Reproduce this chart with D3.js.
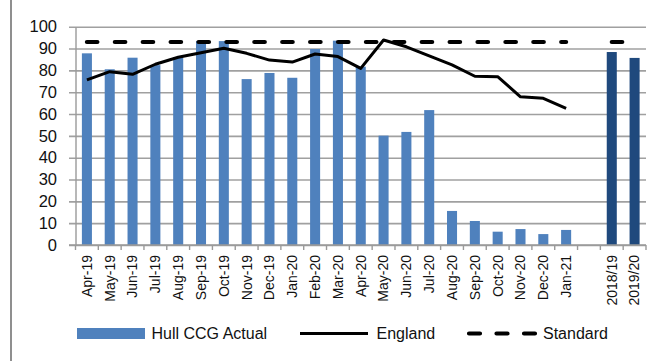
<!DOCTYPE html>
<html>
<head>
<meta charset="utf-8">
<script src="https://cdn.jsdelivr.net/npm/d3@7"></script>
<style>
  html, body { margin: 0; padding: 0; background: #fff; }
  svg { display: block; font-family: "Liberation Sans", Arial, sans-serif; }
</style>
</head>
<body>
<svg id="chart" width="657" height="361"></svg>
<script>
// Monthly figures, Apr-19 to Jan-21
const months = ["Apr-19","May-19","Jun-19","Jul-19","Aug-19","Sep-19","Oct-19","Nov-19","Dec-19","Jan-20",
  "Feb-20","Mar-20","Apr-20","May-20","Jun-20","Jul-20","Aug-20","Sep-20","Oct-20","Nov-20","Dec-20","Jan-21"];
const hullActual = [87.8, 80.5, 85.8, 82.4, 86.0, 93.4, 93.4, 76.0, 78.8, 76.6,
  89.8, 93.6, 81.7, 50.1, 51.8, 61.8, 15.6, 11.0, 6.1, 7.3, 5.0, 6.9];
const england = [75.6, 79.4, 78.2, 82.8, 86.0, 88.1, 90.1, 87.8, 84.7, 83.8,
  87.5, 86.3, 80.9, 93.9, 90.8, 86.6, 82.5, 77.3, 77.1, 67.9, 67.2, 62.6];
// Full-year figures
const years = ["2018/19", "2019/20"];
const hullYearly = [88.4, 85.7];
const standard = 93;
const yTicks = [0, 10, 20, 30, 40, 50, 60, 70, 80, 90, 100];

const gap = " "; // empty slot between months and years
const categories = [...months, gap, ...years];

const svg = d3.select("#chart");
const plotLeft = 75.5, plotRight = 646, plotTop = 26.7, plotBottom = 245;

const x = d3.scaleBand().domain(categories).range([plotLeft, plotRight]).paddingInner(0.56).paddingOuter(0.28);
const y = d3.scaleLinear().domain([0, 100]).range([plotBottom, plotTop]);
const cx = c => x(c) + x.bandwidth() / 2;

// outer frame edge
svg.append("line").attr("x1", 11).attr("x2", 11).attr("y1", 0).attr("y2", 361)
  .attr("stroke", "#8f8f8f").attr("stroke-width", 2);

// gridlines
svg.append("g").attr("transform", `translate(${plotRight},0)`)
  .call(d3.axisLeft(y).tickValues(yTicks).tickSize(plotRight - 69).tickFormat(""))
  .call(g => g.select(".domain").remove())
  .call(g => g.selectAll("line").attr("stroke", "#a0a0a0").attr("stroke-width", 1.6));

// y axis
svg.append("g").attr("transform", `translate(${plotLeft},0)`)
  .call(d3.axisLeft(y).tickValues(yTicks).tickSize(0).tickPadding(18.5))
  .call(g => g.select(".domain").attr("stroke", "#9a9a9a").attr("stroke-width", 1.4))
  .call(g => g.selectAll("text").attr("font-size", "16.5px").attr("fill", "#111")
    .attr("font-family", "Liberation Sans, Arial, sans-serif"));

// bars
const barData = [
  ...months.map((m, i) => ({ c: m, v: hullActual[i], yearly: false })),
  ...years.map((m, i) => ({ c: m, v: hullYearly[i], yearly: true }))
];
svg.append("g").selectAll("rect").data(barData).join("rect")
  .attr("x", d => x(d.c)).attr("width", x.bandwidth())
  .attr("y", d => y(d.v)).attr("height", d => y(0) - y(d.v))
  .attr("fill", d => d.yearly ? "#1F497D" : "#4F81BD");

// x axis with labels under each slot
const xAxis = svg.append("g").attr("transform", `translate(0,${plotBottom})`)
  .call(d3.axisBottom(x).tickSize(0).tickPadding(0))
  .call(g => g.select(".domain").remove());
xAxis.selectAll("text")
  .attr("font-size", "14px").attr("fill", "#111")
  .attr("font-family", "Liberation Sans, Arial, sans-serif")
  .attr("transform", "rotate(-90)")
  .attr("text-anchor", "end").attr("dy", "0.35em")
  .attr("x", -10).attr("y", 0);
xAxis.append("line").attr("x1", 69).attr("x2", plotRight).attr("y1", 0).attr("y2", 0)
  .attr("stroke", "#9a9a9a").attr("stroke-width", 1.4);
// tick marks between slots
const bounds = categories.map(c => x(c) - x.step() * x.paddingInner() / 2).concat([plotRight]);
xAxis.selectAll(".bt").data(bounds).join("line").attr("class", "bt")
  .attr("x1", d => d).attr("x2", d => d).attr("y1", 0).attr("y2", 5)
  .attr("stroke", "#9a9a9a").attr("stroke-width", 1.4);

// England line
const line = d3.line().defined(d => d.v != null).x(d => cx(d.c)).y(d => y(d.v));
svg.append("path")
  .datum(months.map((m, i) => ({ c: m, v: england[i] })))
  .attr("d", line).attr("fill", "none").attr("stroke", "#000")
  .attr("stroke-width", 3).attr("stroke-linejoin", "round");

// Standard line (months, then the two full years)
[months, years].forEach(group => {
  svg.append("path")
    .datum(group.map(c => ({ c, v: standard })))
    .attr("d", line).attr("fill", "none").attr("stroke", "#000")
    .attr("stroke-width", 4.2).attr("stroke-linecap", "round")
    .attr("stroke-dasharray", "10.5,17.4");
});

// legend
const lg = svg.append("g").attr("font-size", "16px").attr("fill", "#111");
const ly = 333.5;
lg.append("rect").attr("x", 77).attr("y", ly - 5.5).attr("width", 68).attr("height", 11).attr("fill", "#4F81BD");
lg.append("text").attr("x", 151.5).attr("y", ly).attr("dy", "0.36em").text("Hull CCG Actual");
lg.append("line").attr("x1", 300).attr("x2", 368).attr("y1", ly).attr("y2", ly)
  .attr("stroke", "#000").attr("stroke-width", 3);
lg.append("text").attr("x", 376.5).attr("y", ly).attr("dy", "0.36em").text("England");
lg.append("line").attr("x1", 469).attr("x2", 535).attr("y1", ly).attr("y2", ly)
  .attr("stroke", "#000").attr("stroke-width", 4.2).attr("stroke-linecap", "round")
  .attr("stroke-dasharray", "11,16.5");
lg.append("text").attr("x", 543).attr("y", ly).attr("dy", "0.36em").text("Standard");
</script>
</body>
</html>
